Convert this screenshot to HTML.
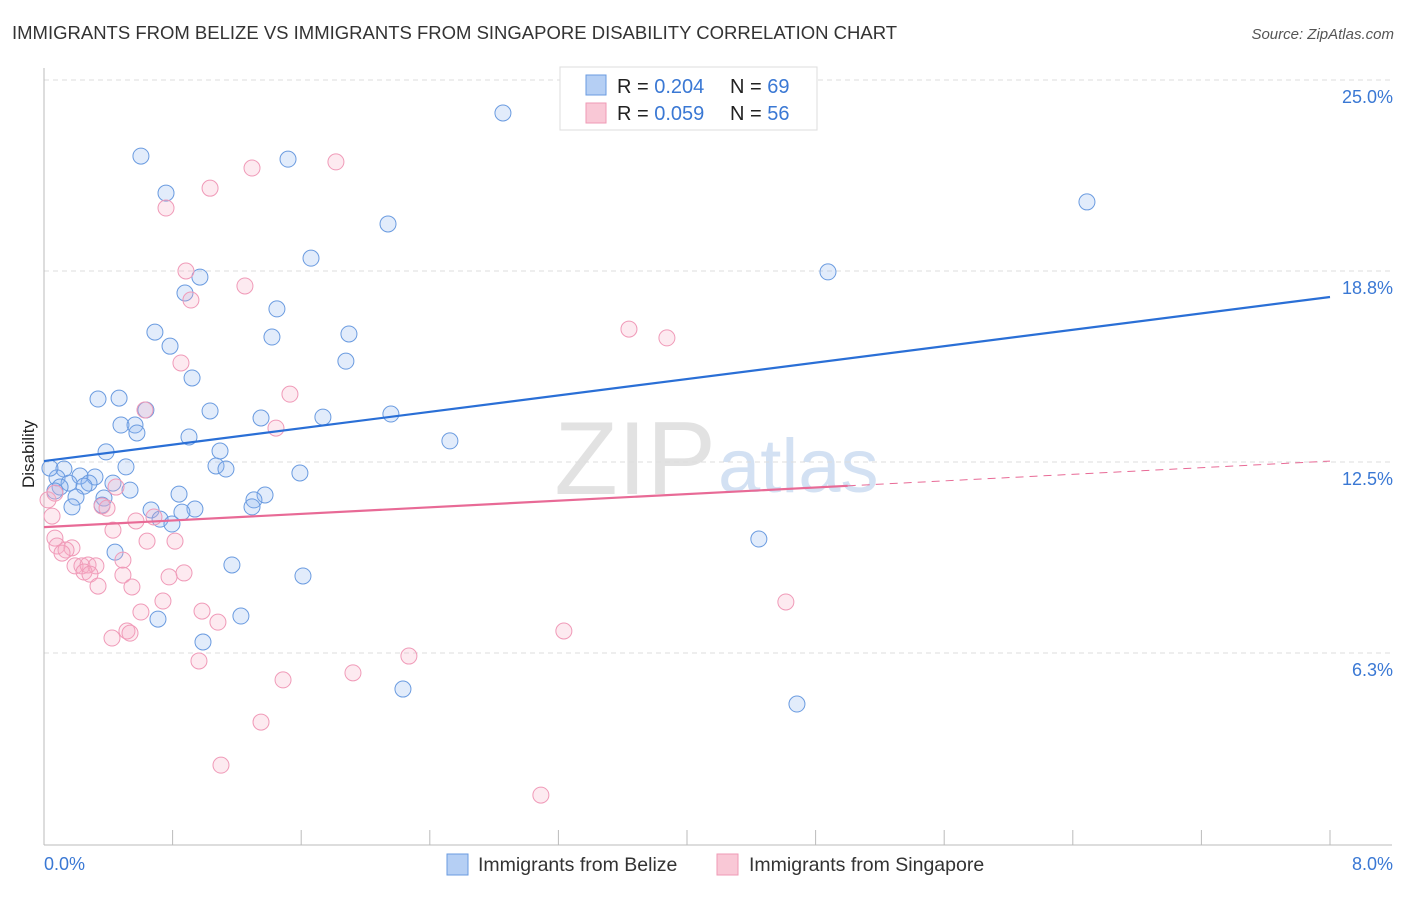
<!DOCTYPE html>
<html><head><meta charset="utf-8"><style>
body{margin:0;background:#fff;font-family:"Liberation Sans",sans-serif;}
svg text{font-family:"Liberation Sans",sans-serif;}
</style></head><body>
<svg id="chart" width="1406" height="892">
<text x="12" y="39" font-size="18.5" fill="#333">IMMIGRANTS FROM BELIZE VS IMMIGRANTS FROM SINGAPORE DISABILITY CORRELATION CHART</text>
<text x="1394" y="39" font-size="15" fill="#555" font-style="italic" text-anchor="end">Source: ZipAtlas.com</text>
<text x="716" y="494" font-size="104" fill="#e2e2e2" text-anchor="end" font-family="Liberation Serif">ZIP</text>
<text x="718" y="492" font-size="76" fill="#d3e1f3">atlas</text>
<g id="grid"></g><g id="axes"></g><g id="pts"></g><g id="lines"></g>
<text x="36" y="456" font-size="17" fill="#222" text-anchor="middle" transform="rotate(-90 34 456)">Disability</text>
<text x="44" y="870" font-size="18" fill="#3a78d4">0.0%</text>
<text x="1393" y="870" font-size="18" fill="#3a78d4" text-anchor="end">8.0%</text>
<g>
<rect x="560" y="67" width="257" height="63" fill="#fff" stroke="#ddd"/>
<rect x="586" y="75" width="20" height="20" fill="#b5cff4" stroke="#6a9be0"/>
<rect x="586" y="103" width="20" height="20" fill="#f9c8d6" stroke="#ef9ab5"/>
<text x="617" y="93" font-size="20" fill="#222">R = <tspan fill="#3a78d4">0.204</tspan><tspan x="730">N = </tspan><tspan fill="#3a78d4">69</tspan></text>
<text x="617" y="120" font-size="20" fill="#222">R = <tspan fill="#3a78d4">0.059</tspan><tspan x="730">N = </tspan><tspan fill="#3a78d4">56</tspan></text>
</g>
<g>
<rect x="447" y="854" width="21" height="21" fill="#b5cff4" stroke="#6a9be0"/>
<text x="478" y="871" font-size="19.5" fill="#333">Immigrants from Belize</text>
<rect x="717" y="854" width="21" height="21" fill="#f9c8d6" stroke="#ef9ab5"/>
<text x="749" y="871" font-size="19.5" fill="#333">Immigrants from Singapore</text>
</g>
</svg>
<script>
const yTicks=[6.25,12.5,18.75,25];
const yTickLabels=["6.3%","12.5%","18.8%","25.0%"];
const xTicks=[0,0.8,1.6,2.4,3.2,4,4.8,5.6,6.4,7.2,8];
const belizeX=[2.855,0.603,1.518,0.759,2.140,6.488,1.661,4.877,0.970,0.877,1.449,0.690,1.897,1.418,0.784,1.878,0.921,0.336,0.467,0.634,1.033,1.350,1.735,2.158,0.479,0.566,0.578,0.902,2.525,0.386,1.095,1.070,1.132,0.510,1.592,0.124,0.224,0.317,0.081,0.280,0.156,0.429,0.249,0.100,0.068,0.535,0.840,1.375,0.373,0.199,1.306,0.174,0.361,0.666,0.939,1.294,0.858,0.722,0.796,4.447,0.442,1.169,1.611,0.709,1.225,0.989,2.233,4.684,0.037];
const belizeY=[23.92,22.51,22.41,21.30,20.29,21.01,19.17,18.72,18.55,18.03,17.51,16.75,16.69,16.59,16.29,15.80,15.25,14.56,14.59,14.20,14.17,13.94,13.97,14.07,13.71,13.71,13.45,13.32,13.19,12.83,12.86,12.37,12.27,12.34,12.14,12.27,12.04,12.01,11.98,11.81,11.81,11.81,11.71,11.68,11.55,11.58,11.45,11.42,11.32,11.35,11.26,11.03,11.09,10.93,10.96,11.03,10.86,10.63,10.47,9.98,9.55,9.13,8.77,7.36,7.46,6.61,5.07,4.58,12.30];
const singX=[1.816,1.294,1.033,0.759,0.883,1.250,0.914,3.639,3.875,0.852,1.530,0.628,1.443,0.448,0.361,0.025,0.068,0.392,0.050,0.572,0.684,0.429,0.068,0.815,0.641,0.081,0.174,0.137,0.112,0.491,0.193,0.236,0.274,0.323,0.249,0.286,0.871,0.778,0.491,0.336,0.547,0.740,0.603,0.983,4.615,1.082,0.516,0.535,0.423,3.234,2.270,0.964,1.922,1.487,1.350,1.101,3.091];
const singY=[22.32,22.12,21.46,20.81,18.75,18.26,17.80,16.85,16.56,15.74,14.72,14.20,13.61,11.68,11.06,11.26,11.48,10.99,10.73,10.57,10.70,10.27,10.01,9.91,9.91,9.75,9.69,9.62,9.52,9.29,9.10,9.10,9.13,9.10,8.90,8.83,8.87,8.74,8.80,8.44,8.41,7.95,7.59,7.62,7.92,7.26,6.97,6.90,6.74,6.97,6.15,5.99,5.60,5.37,3.99,2.58,1.60];
const belizeTrend=[12.53,17.9];
const singTrend=[10.37,12.53];
const singSolidEnd=5.0;
const NS="http://www.w3.org/2000/svg";
const X=v=>44+v/8*1286, Y=v=>844-v/6.25*191;
function mk(p,t,a){const e=document.createElementNS(NS,t);for(const k in a)e.setAttribute(k,a[k]);document.getElementById(p).appendChild(e);return e;}
yTicks.forEach((t,i)=>{
 const g=mk('grid','line',{x1:44,x2:1392,y1:Y(t),y2:Y(t),stroke:'#ddd','stroke-dasharray':'5,4'});
 
 
 const l=mk('grid','text',{x:1393,y:Y(t)+23,'font-size':18,fill:'#3a78d4','text-anchor':'end'});
 l.textContent=yTickLabels[i];
 
 
});
const ya=mk('axes','line',{x1:44,x2:44,y1:68,y2:845,stroke:'#bbb'});


const xa=mk('axes','line',{x1:44,x2:1392,y1:845,y2:845,stroke:'#bbb'});


xTicks.forEach(t=>{
 const e=mk('axes','line',{x1:X(t),x2:X(t),y1:830,y2:845,stroke:'#bbb'});
 
 
});
belizeX.forEach((x,i)=>{
 const c=mk('pts','circle',{cx:X(x),cy:Y(belizeY[i]),r:8,fill:'rgba(140,180,240,0.25)',stroke:'#6a9be0','stroke-width':1});
 
 
});
singX.forEach((x,i)=>{
 const c=mk('pts','circle',{cx:X(x),cy:Y(singY[i]),r:8,fill:'rgba(248,170,195,0.25)',stroke:'#f09ab8','stroke-width':1});
 
 
});
const bl=mk('lines','line',{x1:X(0),y1:Y(belizeTrend[0]),x2:X(8),y2:Y(belizeTrend[1]),stroke:'#2a6fd6','stroke-width':2.2});


const sy=v=>singTrend[0]+(singTrend[1]-singTrend[0])*v/8;
const sl=mk('lines','line',{x1:X(0),y1:Y(sy(0)),x2:X(singSolidEnd),y2:Y(sy(singSolidEnd)),stroke:'#e86a96','stroke-width':2.2});


const sd=mk('lines','line',{x1:X(singSolidEnd),y1:Y(sy(singSolidEnd)),x2:X(8),y2:Y(sy(8)),stroke:'#e86a96','stroke-width':1,'stroke-dasharray':'8,6'});


</script>
</body></html>
